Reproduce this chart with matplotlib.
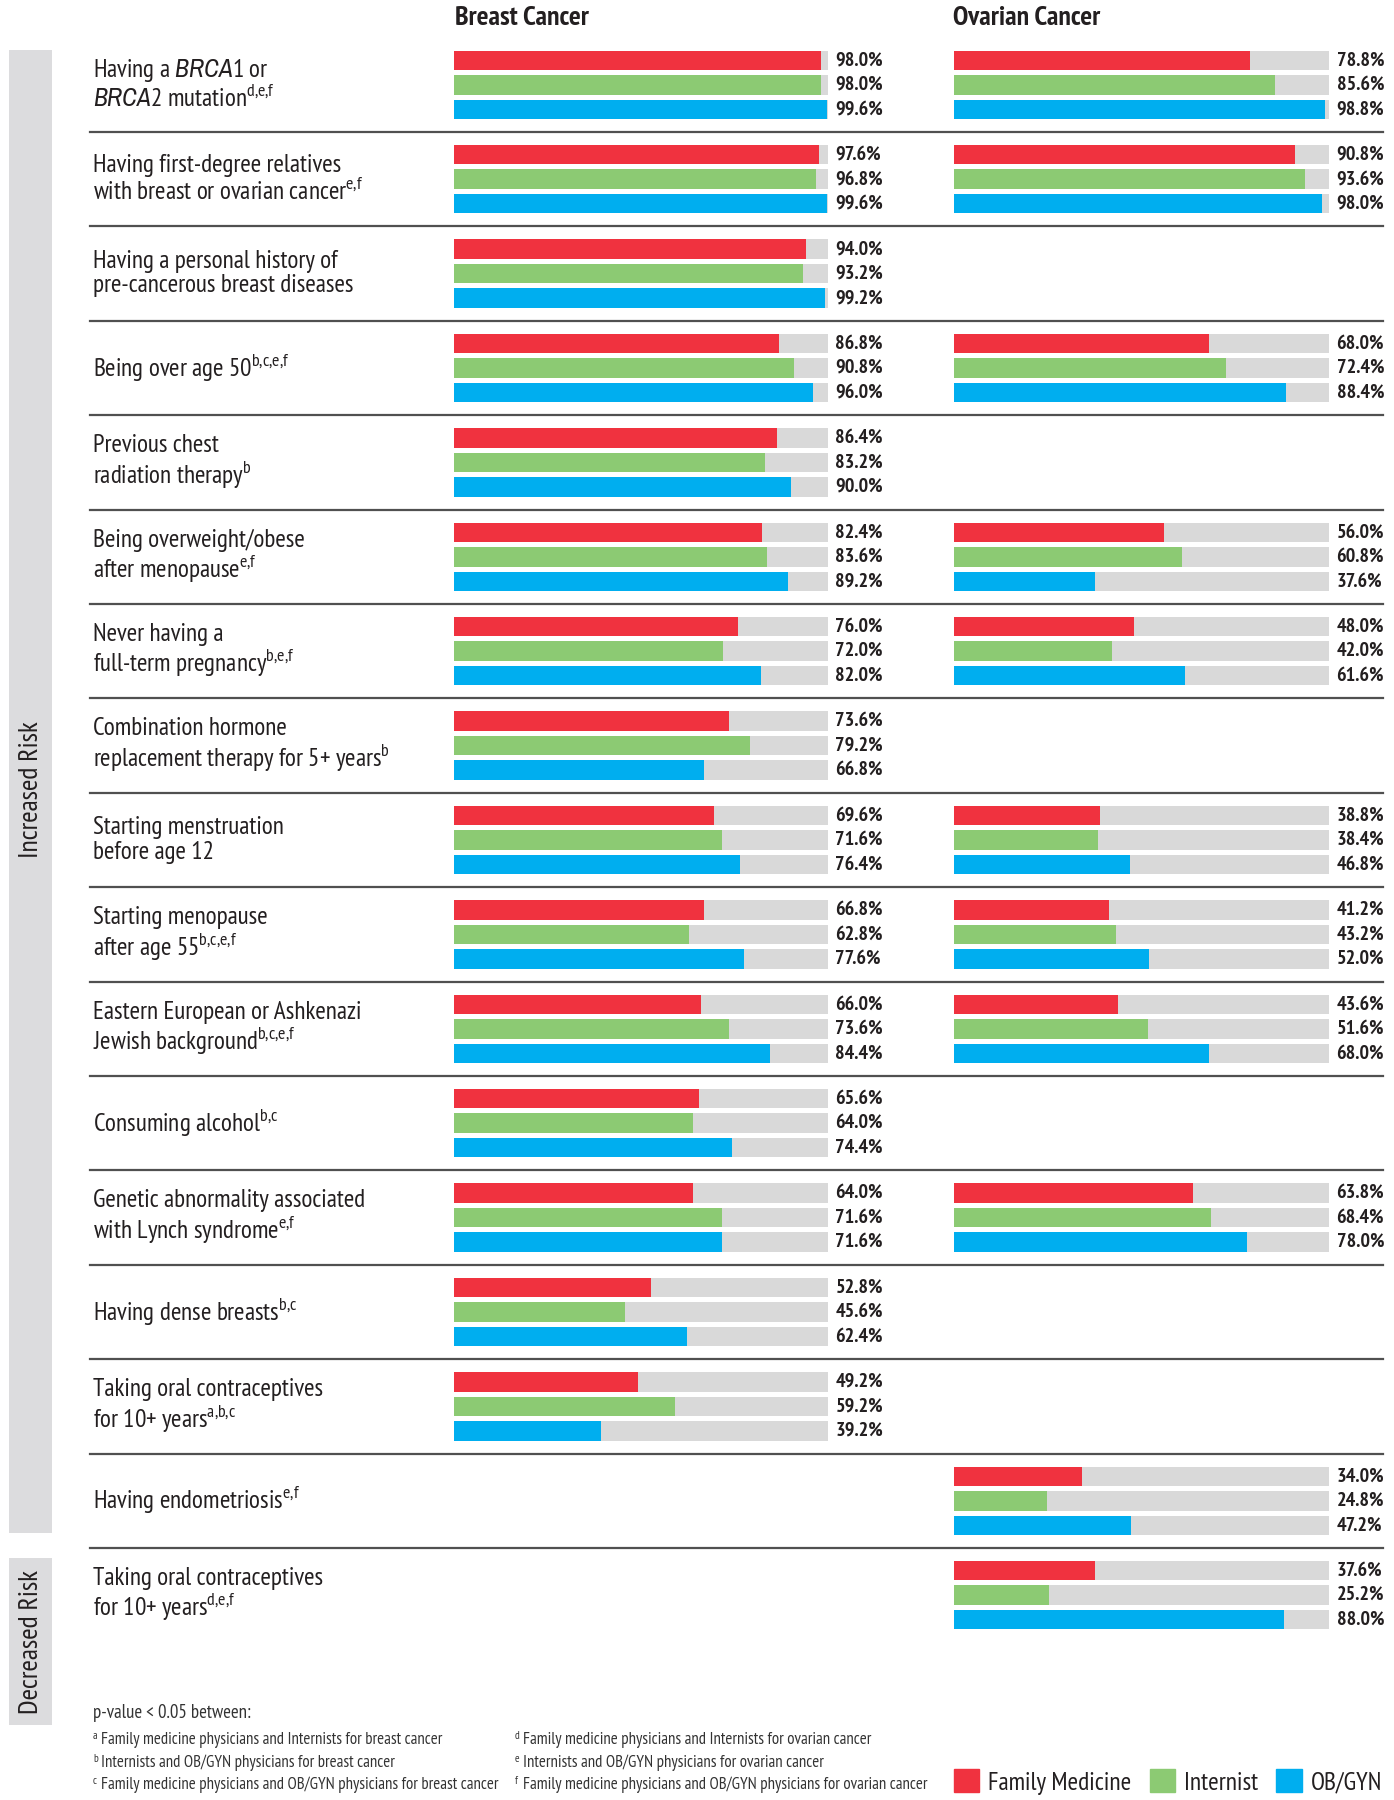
import matplotlib
matplotlib.use('Agg')
from matplotlib import pyplot as plt
from matplotlib import font_manager
from matplotlib.patches import Patch, Rectangle
import matplotlib.patheffects as pe

# look for a narrow / condensed face, the original uses a condensed grotesque
fonts = font_manager.fontManager.ttflist


def weight_num(w):
    if isinstance(w, int):
        return w
    return font_manager.weight_dict.get(w, 400)


narrow = [f for f in fonts if 'Narrow' in f.name]
cond = [f for f in fonts if 'Condensed' in f.name or 'Cond' in f.name]
stretched = [f for f in fonts if f.stretch in ('condensed', 'semi-condensed', 'extra-condensed', 'ultra-condensed')
             or (isinstance(f.stretch, int) and f.stretch < 500)]
scale = 1.0
pool = narrow or cond
it_fam = None
if pool:
    names = [f.name for f in pool]
    # prefer a family that also has a real bold face
    with_bold = [n for n in names if any(f.name == n and weight_num(f.weight) >= 600 for f in pool)]
    fam = with_bold[0] if with_bold else names[0]
    has_bold = bool(with_bold)
    ital = [f.name for f in pool if f.style == 'italic' and f.name == fam] or \
           [f.name for f in pool if f.style == 'italic']
    if ital:
        it_fam = ital[0]
elif stretched:
    fam = stretched[0].name
    plt.rcParams['font.stretch'] = stretched[0].stretch
    has_bold = False
    scale = 0.95
else:
    fam = 'DejaVu Sans'
    has_bold = True
    scale = 0.8
if it_fam is None:
    it_fam = fam

plt.rcParams['font.family'] = [fam, 'DejaVu Sans']
plt.rcParams['mathtext.fontset'] = 'custom'
plt.rcParams['mathtext.rm'] = fam
plt.rcParams['mathtext.it'] = it_fam + ':italic'

if has_bold:
    bold_kw = dict(fontweight='bold')
else:
    bold_kw = dict(path_effects=[pe.withStroke(linewidth=0.9, foreground='#231f20')])

# risk factors (rows, top to bottom)
labels = [
    'Having a $\\mathit{BRCA1}$ or\n$\\mathit{BRCA2}$ mutation$^{\\mathrm{d{,}e{,}f}}$',
    'Having first-degree relatives\nwith breast or ovarian cancer$^{\\mathrm{e{,}f}}$',
    'Having a personal history of\npre-cancerous breast diseases',
    'Being over age 50$^{\\mathrm{b{,}c{,}e{,}f}}$',
    'Previous chest\nradiation therapy$^{\\mathrm{b}}$',
    'Being overweight/obese\nafter menopause$^{\\mathrm{e{,}f}}$',
    'Never having a\nfull-term pregnancy$^{\\mathrm{b{,}e{,}f}}$',
    'Combination hormone\nreplacement therapy for 5+ years$^{\\mathrm{b}}$',
    'Starting menstruation\nbefore age 12',
    'Starting menopause\nafter age 55$^{\\mathrm{b{,}c{,}e{,}f}}$',
    'Eastern European or Ashkenazi\nJewish background$^{\\mathrm{b{,}c{,}e{,}f}}$',
    'Consuming alcohol$^{\\mathrm{b{,}c}}$',
    'Genetic abnormality associated\nwith Lynch syndrome$^{\\mathrm{e{,}f}}$',
    'Having dense breasts$^{\\mathrm{b{,}c}}$',
    'Taking oral contraceptives\nfor 10+ years$^{\\mathrm{a{,}b{,}c}}$',
    'Having endometriosis$^{\\mathrm{e{,}f}}$',
    'Taking oral contraceptives\nfor 10+ years$^{\\mathrm{d{,}e{,}f}}$',
]
groups = ['Family Medicine', 'Internist', 'OB/GYN']
colors = ['#f0323f', '#8cca73', '#00aeef']

breast_fm = [98.0, 97.6, 94.0, 86.8, 86.4, 82.4, 76.0, 73.6, 69.6, 66.8, 66.0, 65.6, 64.0, 52.8, 49.2, None, None]
breast_int = [98.0, 96.8, 93.2, 90.8, 83.2, 83.6, 72.0, 79.2, 71.6, 62.8, 73.6, 64.0, 71.6, 45.6, 59.2, None, None]
breast_ob = [99.6, 99.6, 99.2, 96.0, 90.0, 89.2, 82.0, 66.8, 76.4, 77.6, 84.4, 74.4, 71.6, 62.4, 39.2, None, None]
ovarian_fm = [78.8, 90.8, None, 68.0, None, 56.0, 48.0, None, 38.8, 41.2, 43.6, None, 63.8, None, None, 34.0, 37.6]
ovarian_int = [85.6, 93.6, None, 72.4, None, 60.8, 42.0, None, 38.4, 43.2, 51.6, None, 68.4, None, None, 24.8, 25.2]
ovarian_ob = [98.8, 98.0, None, 88.4, None, 37.6, 61.6, None, 46.8, 52.0, 68.0, None, 78.0, None, None, 47.2, 88.0]

footnotes_left = [('a', 'Family medicine physicians and Internists for breast cancer'),
                  ('b', 'Internists and OB/GYN physicians for breast cancer'),
                  ('c', 'Family medicine physicians and OB/GYN physicians for breast cancer')]
footnotes_right = [('d', 'Family medicine physicians and Internists for ovarian cancer'),
                   ('e', 'Internists and OB/GYN physicians for ovarian cancer'),
                   ('f', 'Family medicine physicians and OB/GYN physicians for ovarian cancer')]

W, H = 1394, 1800
fig = plt.figure(figsize=(W / 100, H / 100), dpi=100)

# background axes in pixel units
bg = fig.add_axes([0, 0, 1, 1])
bg.set_xlim(0, W)
bg.set_ylim(H, 0)
bg.axis('off')

pitch = 94.4
first_sep = 132
centers = [first_sep - pitch / 2 + pitch * i for i in range(len(labels))]
txt = '#231f20'

# side bands
bg.add_patch(Rectangle((9, 50), 43, 1483, color='#dcdcde', lw=0))
bg.add_patch(Rectangle((9, 1558), 43, 167, color='#dcdcde', lw=0))
bg.text(31, 790, 'Increased Risk', rotation=90, ha='center', va='center', fontsize=20 * scale, color=txt)
bg.text(31, 1642, 'Decreased Risk', rotation=90, ha='center', va='center', fontsize=20 * scale, color=txt)

# row labels and separators
for i, lab in enumerate(labels):
    bg.text(93, centers[i], lab, ha='left', va='center', fontsize=18.2 * scale, color=txt, linespacing=1.08)
    if i < len(labels) - 1:
        bg.plot([90, 1383], [first_sep + pitch * i] * 2, color='#505050', lw=1.6)

bg.text(455, 18, 'Breast Cancer', ha='left', va='center', fontsize=20 * scale, color=txt, **bold_kw)
bg.text(953, 18, 'Ovarian Cancer', ha='left', va='center', fontsize=20 * scale, color=txt, **bold_kw)

# footnotes
bg.text(93, 1713, 'p-value < 0.05 between:', ha='left', va='center', fontsize=13.6 * scale, color='#333333')
for k, (sup, t) in enumerate(footnotes_left):
    y = 1740 + 22.5 * k
    bg.text(93, y - 4, sup, ha='left', va='center', fontsize=8 * scale, color='#333333')
    bg.text(101, y, t, ha='left', va='center', fontsize=12.1 * scale, color='#333333')
for k, (sup, t) in enumerate(footnotes_right):
    y = 1740 + 22.5 * k
    bg.text(515, y - 4, sup, ha='left', va='center', fontsize=8 * scale, color='#333333')
    bg.text(523, y, t, ha='left', va='center', fontsize=12.1 * scale, color='#333333')


def draw_panel(left, width, series):
    ax = fig.add_axes([left / W, 0, width / W, 1])
    ax.set_xlim(0, 100)
    ax.set_ylim(H, 0)
    ax.axis('off')
    offsets = [-24.5, 0, 24.5]
    for vals, col, off in zip(series, colors, offsets):
        for i, v in enumerate(vals):
            if v is None:
                continue
            y = centers[i] + off
            ax.barh(y, 100, height=19.5, color='#d9d9d9', lw=0)
            ax.barh(y, v, height=19.5, color=col, lw=0)
            ax.text(102.0, y, '%.1f%%' % v, ha='left', va='center', fontsize=14.5 * scale,
                    color=txt, clip_on=False, **bold_kw)
    return ax


draw_panel(454, 374, [breast_fm, breast_int, breast_ob])
draw_panel(954, 375, [ovarian_fm, ovarian_int, ovarian_ob])

handles = [Patch(color=c) for c in colors]
fig.legend(handles, groups, loc='center right', bbox_to_anchor=(1382 / W, 1 - 1782 / H), ncol=3,
           frameon=False, fontsize=18.3 * scale, handlelength=1.0, handleheight=1.0, handletextpad=0.35,
           columnspacing=0.72, borderpad=0, borderaxespad=0, labelcolor=txt)

fig.savefig('out.png', dpi=100)
